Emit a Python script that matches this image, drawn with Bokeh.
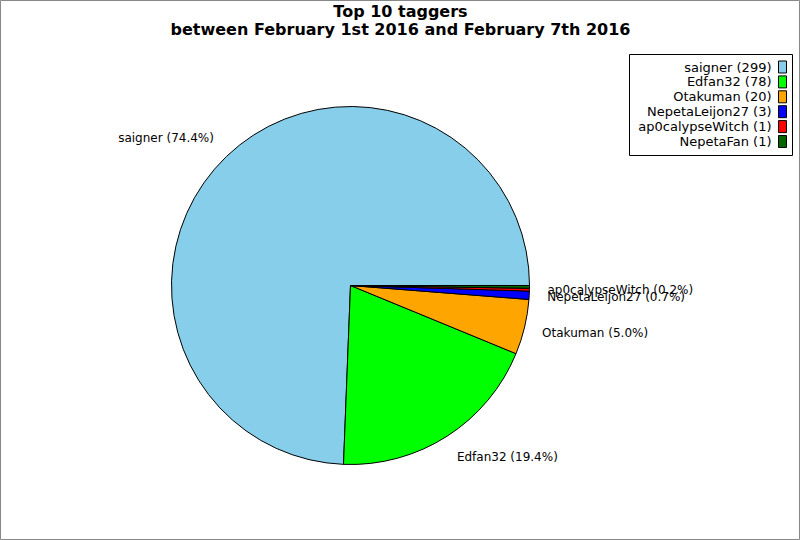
import numpy as np
from bokeh.plotting import figure
from bokeh.models import ColumnDataSource
from bokeh.core.properties import value
from bokeh.embed import file_html
from bokeh.resources import INLINE

# Tagger counts for the week
names = ["saigner", "Edfan32", "Otakuman", "NepetaLeijon27", "ap0calypseWitch", "NepetaFan"]
counts = [299, 78, 20, 3, 1, 1]
colors = ["#87CEEB", "#00FF00", "#FFA500", "#0000FF", "#FF0000", "#006400"]
title_lines = ["Top 10 taggers", "between February 1st 2016 and February 7th 2016"]

W, H = 800, 540
FONT = "DejaVu Sans"


def py(y):
    """Convert a top-down pixel row into the plot's bottom-up y."""
    return H - y


p = figure(width=W, height=H, x_range=(0, W), y_range=(0, H),
           min_border=0, toolbar_location=None, output_backend="svg",
           x_axis_location=None, y_axis_location=None)
p.grid.visible = False
p.outline_line_color = "#888888"
p.outline_line_width = 1
p.background_fill_color = "white"
p.border_fill_color = "white"

# Pie geometry
cx, cy, r = 350, py(285), 179
label_rx, label_ry = 197, 204

vals = np.array(counts, dtype=float)
frac = vals / vals.sum()
ends = np.cumsum(frac) * 2 * np.pi
starts = np.concatenate([[0.0], ends[:-1]])
mids = (starts + ends) / 2

src = ColumnDataSource(dict(start=starts, end=ends, color=colors))
p.wedge(x=cx, y=cy, radius=r, start_angle="start", end_angle="end",
        direction="anticlock", fill_color="color", line_color="black",
        line_width=1, source=src)

# Slice labels (the last, tiniest slice is left unlabelled)
lx, ly, lt, la = [], [], [], []
for i in range(len(names) - 1):
    lx.append(cx + label_rx * np.cos(mids[i]))
    ly.append(cy + label_ry * np.sin(mids[i]))
    lt.append(f"{names[i]} ({frac[i] * 100:.1f}%)")
    la.append("left" if np.cos(mids[i]) > 0 else "right")
p.text(x=lx, y=ly, text=lt, text_align=la, text_baseline="middle",
       text_font=value(FONT), text_font_size=value("12px"), text_color="black")

# Title
p.text(x=[W / 2, W / 2], y=[py(11), py(29)], text=title_lines,
       text_align="center", text_baseline="middle",
       text_font=value(FONT), text_font_size=value("16px"),
       text_font_style="bold", text_color="black")

# Legend box
lg_left, lg_right, lg_top, lg_bottom = 629, 792, 54, 155
p.quad(left=lg_left, right=lg_right, top=py(lg_top), bottom=py(lg_bottom),
       fill_color="white", line_color="black", line_width=1)

row0, row_step = 66.5, 14.9
rows_y = [py(row0 + i * row_step) for i in range(len(names))]
p.rect(x=[782] * len(names), y=rows_y, width=8, height=12,
       fill_color=colors, line_color="black", line_width=1)
p.text(x=[771] * len(names), y=rows_y,
       text=[f"{n} ({c})" for n, c in zip(names, counts)],
       text_align="right", text_baseline="middle",
       text_font=value(FONT), text_font_size=value("13px"), text_color="black")

open("out.html", "w").write(file_html(p, INLINE))
